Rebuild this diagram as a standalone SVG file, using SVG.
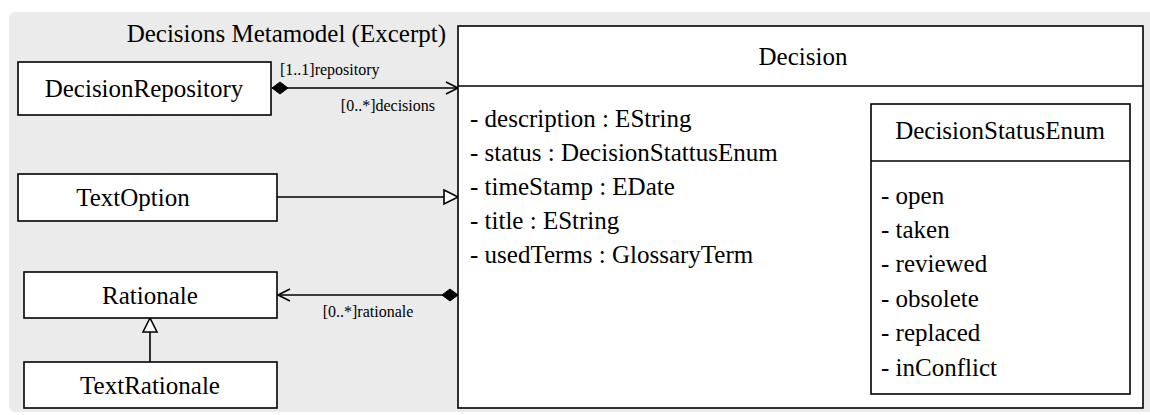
<svg xmlns="http://www.w3.org/2000/svg" width="1150" height="415" viewBox="0 0 1150 415">
<style>
.bg{fill:#ebebeb;stroke:none}
.box{fill:#ffffff;stroke:#000;stroke-width:1.6}
.ln{fill:none;stroke:#000;stroke-width:1.6}
.t{font-family:'Liberation Serif','Times New Roman',serif;font-size:25px;fill:#000}
.c{text-anchor:middle}
.s{font-family:'Liberation Serif','Times New Roman',serif;font-size:16px;fill:#000}
</style>
<defs>
<marker id="diamond" markerWidth="20" markerHeight="14" refX="1" refY="7" orient="auto" markerUnits="userSpaceOnUse">
<path d="M1,7 L9,1 L17,7 L9,13 Z" fill="#000" stroke="#000" stroke-width="1"/>
</marker>
<marker id="open" markerWidth="16" markerHeight="14" refX="14" refY="7" orient="auto" markerUnits="userSpaceOnUse">
<path d="M2,1 L14,7 L2,13" fill="none" stroke="#000" stroke-width="1.6"/>
</marker>
<marker id="tri" markerWidth="18" markerHeight="18" refX="16" refY="9" orient="auto" markerUnits="userSpaceOnUse">
<path d="M2,2 L16,9 L2,16 Z" fill="#fff" stroke="#000" stroke-width="1.6"/>
</marker>
</defs>
<rect class="bg" x="9" y="12" width="1150" height="400" rx="6"/>
<text class="t" x="446" y="42" text-anchor="end">Decisions Metamodel (Excerpt)</text>

<g id="connectors">
<line class="ln" x1="272" y1="88" x2="458" y2="88" marker-start="url(#diamond)" marker-end="url(#open)"/>
<text class="s" x="280" y="75">[1..1]repository</text>
<text class="s" x="435" y="111" text-anchor="end">[0..*]decisions</text>
<line class="ln" x1="277" y1="197" x2="458" y2="197" marker-end="url(#tri)"/>
<line class="ln" x1="458" y1="295" x2="278" y2="295" marker-start="url(#diamond)" marker-end="url(#open)"/>
<text class="s" x="368" y="317" text-anchor="middle">[0..*]rationale</text>
<line class="ln" x1="150" y1="362" x2="150" y2="318" marker-end="url(#tri)"/>
</g>

<g id="DecisionRepository">
<rect class="box" x="18" y="62" width="253" height="53"/>
<text class="t c" x="144" y="97">DecisionRepository</text>
</g>
<g id="TextOption">
<rect class="box" x="18" y="174" width="259" height="47"/>
<text class="t c" x="133" y="206">TextOption</text>
</g>
<g id="Rationale">
<rect class="box" x="24" y="272" width="253" height="46"/>
<text class="t c" x="150" y="304">Rationale</text>
</g>
<g id="TextRationale">
<rect class="box" x="24" y="362" width="253" height="46"/>
<text class="t c" x="150" y="394">TextRationale</text>
</g>
<g id="Decision">
<rect class="box" x="458" y="26" width="685" height="382"/>
<line class="ln" x1="458" y1="86" x2="1143" y2="86"/>
<text class="t c" x="803" y="65">Decision</text>
<text class="t" x="470" y="127">- description : EString</text>
<text class="t" x="470" y="161">- status : DecisionStattusEnum</text>
<text class="t" x="470" y="195">- timeStamp : EDate</text>
<text class="t" x="470" y="229">- title : EString</text>
<text class="t" x="470" y="263">- usedTerms : GlossaryTerm</text>
</g>
<g id="DecisionStatusEnum">
<rect class="box" x="871" y="104" width="259" height="290"/>
<line class="ln" x1="871" y1="161" x2="1130" y2="161"/>
<text class="t c" x="1000" y="139">DecisionStatusEnum</text>
<text class="t" x="881" y="204">- open</text>
<text class="t" x="881" y="238">- taken</text>
<text class="t" x="881" y="272">- reviewed</text>
<text class="t" x="881" y="307">- obsolete</text>
<text class="t" x="881" y="341">- replaced</text>
<text class="t" x="881" y="376">- inConflict</text>
</g>
</svg>
